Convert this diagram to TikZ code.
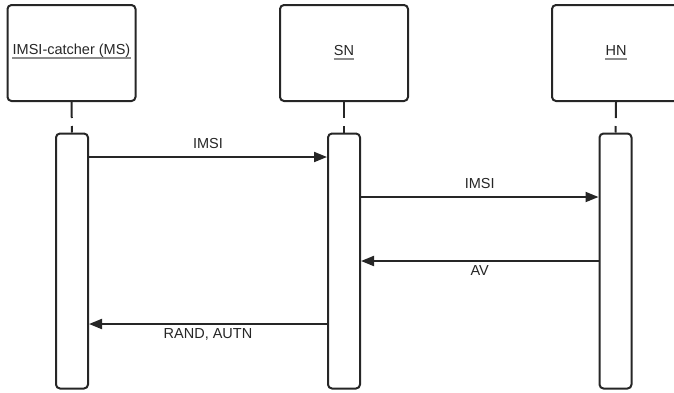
\documentclass[tikz,border=0pt]{standalone}
\usepackage{fontspec}
\setmainfont{Liberation Sans}
\usetikzlibrary{arrows.meta}
\begin{document}
\begin{tikzpicture}[x=1pt,y=-1pt,
  actor/.style={draw=black!85,line width=2pt,rounded corners=4pt,minimum width=128pt,minimum height=96pt,inner sep=0pt},
  actbar/.style={draw=black!85,line width=2pt,rounded corners=4pt,minimum width=32pt,minimum height=255pt,inner sep=0pt},
  lifeline/.style={draw=black!85,line width=2pt,dash pattern=on 16pt off 8pt},
  msg/.style={draw=black!85,line width=2pt,-{Triangle[length=13pt,width=10pt]}},
  lbl/.style={font=\fontsize{14.5}{16}\selectfont,text=black!85,inner sep=0pt},
  uline/.style={draw=black!45,line width=1.5pt}]
\useasboundingbox (0,0) rectangle (674,392);
% participants
\node[actor] (ms) at (71.5,53) {};
\node[actor] (sn) at (344,53) {};
\node[actor] (hn) at (616,53) {};
\node[lbl] (msname) at (71.5,51) {IMSI-catcher (MS)};
\node[lbl] (snname) at (344,51) {SN};
\node[lbl] (hnname) at (616,51) {HN};
\foreach \n in {msname,snname,hnname}
  \draw[uline] ([yshift=-3pt]\n.base west) -- ([yshift=-3pt]\n.base east);
% activation bars
\node[actbar,anchor=north] (msbar) at (72,132.5) {};
\node[actbar,anchor=north] (snbar) at (344,132.5) {};
\node[actbar,anchor=north] (hnbar) at (615.5,132.5) {};
% lifelines
\draw[lifeline] (ms.south) -- (msbar.north);
\draw[lifeline] (sn.south) -- (snbar.north);
\draw[lifeline] (hn.south) -- (hnbar.north);
% messages
\coordinate (m1a) at (msbar.east |- 0,157);
\coordinate (m1b) at (snbar.west |- 0,157);
\draw[msg] (m1a) -- node[lbl,above=7pt] {IMSI} (m1b);
\coordinate (m2a) at (snbar.east |- 0,197);
\coordinate (m2b) at (hnbar.west |- 0,197);
\draw[msg] (m2a) -- node[lbl,above=7pt] {IMSI} (m2b);
\coordinate (m3a) at (hnbar.west |- 0,261);
\coordinate (m3b) at (snbar.east |- 0,261);
\draw[msg] (m3a) -- node[lbl,below=4pt] {AV} (m3b);
\coordinate (m4a) at (snbar.west |- 0,324);
\coordinate (m4b) at (msbar.east |- 0,324);
\draw[msg] (m4a) -- node[lbl,below=4pt] {RAND, AUTN} (m4b);
\end{tikzpicture}
\end{document}
